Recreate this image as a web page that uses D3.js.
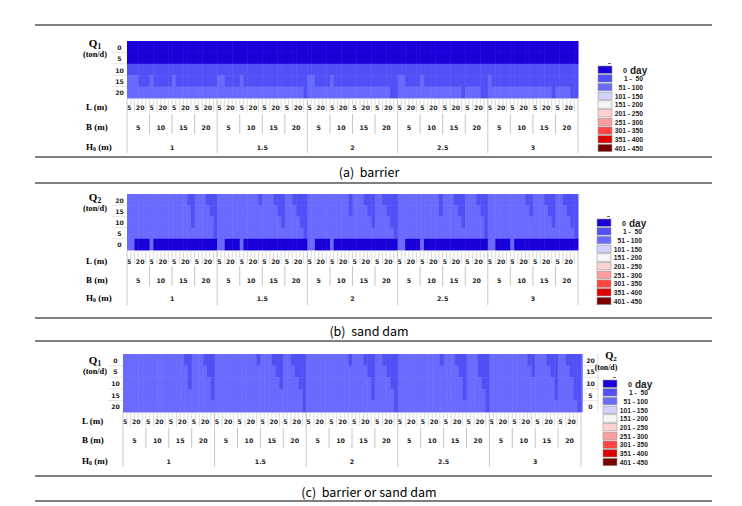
<!DOCTYPE html>
<html><head><meta charset="utf-8">
<script src="https://cdn.jsdelivr.net/npm/d3@7"></script>
<style>body{margin:0;background:#fff}svg{display:block}</style>
</head><body>
<svg id="c" width="742" height="506"></svg>
<script>
// ---------- categories ----------
const H0_vals = ["1", "1.5", "2", "2.5", "3"];
const B_vals = ["5", "10", "15", "20"];
const L_vals = ["5", "10", "15", "20", "25", "30"];
const L_shown = ["5", "20"];
const Q_vals = ["0", "5", "10", "15", "20"];
const legendLabels = ["0 day", "1 -  50", "51 - 100", "101 - 150", "151 - 200", "201 - 250", "251 - 300", "301 - 350", "351 - 400", "401 - 450"];
const legendColors = ["#1a00d8", "#5050f6", "#6a6aff", "#d2d2ff", "#f6f6f6", "#ffd0d0", "#ff9c9c", "#ff4444", "#dd0000", "#7a0000"];
const captions = ["(a)  barrier", "(b)  sand dam", "(c)  barrier or sand dam"];

// ---------- values: legend-bin index per cell, one string per H0 (B groups of L cells) ----------
// (a) barrier, rows Q1 = 0,5,10,15,20
const barrier_Q0  = ["000000 000000 000000 000000","000000 000000 000000 000000","000000 000000 000000 000000","000000 000000 000000 000000","000000 000000 000000 000000"];
const barrier_Q5  = ["000000 000000 000000 000000","000000 000000 000000 000000","000000 000000 000000 000000","000000 000000 000000 000000","000000 000000 000000 000000"];
const barrier_Q10 = ["111111 111111 111111 111111","111111 111111 111111 111111","111111 111111 111111 111111","111111 111111 111111 111111","111111 111111 111111 111111"];
const barrier_Q15 = ["222111 211111 211111 111111","221111 211111 111111 111111","221111 211111 111111 111111","221111 211111 111111 111111","211111 111111 111111 111111"];
const barrier_Q20 = ["222222 222222 222222 222222","222222 222222 222222 222221","222222 222222 222222 222211","222222 222222 222221 222211","222222 222222 222221 222211"];
// (b) sand dam, rows Q2 = 20,15,10,5,0 (top to bottom)
const sand_Q20 = ["222222 222222 222211 222111","222222 222221 222111 221111","222222 222221 222111 221111","222222 222221 222111 222111","222222 222211 222111 221111"];
const sand_Q15 = ["222222 222222 222221 222211","222222 222222 222211 222111","222222 222221 222211 222111","222222 222221 222211 222211","222222 222221 222211 222111"];
const sand_Q10 = ["222222 222222 222221 222221","222222 222222 222221 222211","222222 222222 222221 222211","222222 222222 222221 222221","222222 222222 222221 222211"];
const sand_Q5  = ["222222 222222 222222 222221","222222 222222 222222 222221","222222 222222 222222 222221","222222 222222 222222 222221","222222 222222 222222 222221"];
const sand_Q0  = ["220000 200000 000000 000000","220000 200000 000000 000000","220000 200000 000000 000000","220000 200000 000000 000000","220000 200000 000000 000000"];
// (c) barrier or sand dam, rows Q1 = 0..20 (Q2 = 20..0)
const both_Q0  = ["222222 222222 222211 222111","222222 222221 222111 221111","222222 222221 222111 221111","222222 222221 222111 222111","222222 222211 222111 221111"];
const both_Q5  = ["222222 222222 222221 222211","222222 222222 222211 222111","222222 222222 222211 222111","222222 222222 222211 222111","222222 222221 222211 222111"];
const both_Q10 = ["222222 222222 222221 222221","222222 222222 222221 222211","222222 222222 222221 222211","222222 222222 222221 222211","222222 222222 222221 222211"];
const both_Q15 = ["222222 222222 222222 222221","222222 222222 222222 222221","222222 222222 222221 222221","222222 222222 222221 222221","222222 222222 222221 222211"];
const both_Q20 = ["222222 222222 222222 222222","222222 222222 222222 222221","222222 222222 222222 222221","222222 222222 222222 222221","222222 222222 222222 222221"];

// ---------- helpers ----------
const svg = d3.select("#c");
const parseRow = r => r.join("").replace(/ /g, "").split("").map(Number);
const cols = [];
H0_vals.forEach(h => B_vals.forEach(b => L_vals.forEach(l => cols.push(h + "|" + b + "|" + l))));
const numFont = "'DejaVu Sans', sans-serif";
const legFont = "'Liberation Sans', Arial, sans-serif";
const serif = "'Liberation Serif', 'Times New Roman', serif";

function drawPanel(p) {
  const g = svg.append("g");
  const x = d3.scaleBand().domain(cols).range([p.x0, p.x1]);
  const y = d3.scaleBand().domain(d3.range(p.rows.length)).range([p.y0, p.y1]);
  const color = d3.scaleOrdinal().domain(d3.range(legendColors.length)).range(legendColors);
  const cells = [];
  p.rows.forEach((r, ri) => parseRow(r).forEach((v, ci) => cells.push({ri, c: cols[ci], v})));
  g.selectAll("rect.cell").data(cells).enter().append("rect")
    .attr("x", d => x(d.c)).attr("y", d => y(d.ri))
    .attr("width", x.bandwidth() + 0.5).attr("height", y.bandwidth() + 0.5)
    .attr("fill", d => color(d.v));

  // row label column(s)
  const lab = (lx, labels, xl) => {
    g.selectAll(null).data(d3.range(1, labels.length)).enter().append("line")
      .attr("x1", lx).attr("x2", xl).attr("y1", d => y(d)).attr("y2", d => y(d))
      .attr("stroke", "#d8d8d8").attr("stroke-width", 0.7);
    g.selectAll(null).data(labels).enter().append("text")
      .attr("x", (lx + xl) / 2).attr("y", (d, i) => y(i) + y.bandwidth() / 2 + 0.5)
      .attr("text-anchor", "middle").attr("dominant-baseline", "central")
      .attr("font-family", numFont).attr("font-weight", "bold").attr("font-size", 6.2)
      .attr("fill", "#222").text(d => d);
  };
  lab(p.x0 - 15, p.rowLabels, p.x0);
  if (p.rightLabels) {
    lab(p.x1 + 2, p.rightLabels, p.x1 + 17);
    g.append("line").attr("x1", p.x1 + 17).attr("x2", p.x1 + 17).attr("y1", p.y0).attr("y2", p.y1)
      .attr("stroke", "#d0d0d0").attr("stroke-width", 0.7);
    g.append("line").attr("x1", p.x1 + 1).attr("x2", p.x1 + 1).attr("y1", p.y0).attr("y2", p.y1)
      .attr("stroke", "#4040ff").attr("stroke-width", 1.2);
  }
  // Q title
  const qt = g.append("text").attr("x", p.qx).attr("y", p.qy).attr("text-anchor", "middle")
    .attr("font-family", serif).attr("font-weight", "bold").attr("font-size", 11);
  qt.append("tspan").text("Q");
  qt.append("tspan").attr("font-size", 7.5).attr("dy", 2).text(p.qsub);
  g.append("text").attr("x", p.qx).attr("y", p.qy + 10).attr("text-anchor", "middle")
    .attr("font-family", serif).attr("font-weight", "bold").attr("font-size", 8.3).text("(ton/d)");
  if (p.q2) {
    const q2 = g.append("text").attr("x", p.q2.x).attr("y", p.q2.y).attr("text-anchor", "middle")
      .attr("font-family", serif).attr("font-weight", "bold").attr("font-size", 10.5);
    q2.append("tspan").text("Q");
    q2.append("tspan").attr("font-size", 7).attr("dy", 2).text("2");
    g.append("text").attr("x", p.q2.x - 5).attr("y", p.q2.y + 10.5).attr("text-anchor", "middle")
      .attr("font-family", serif).attr("font-weight", "bold").attr("font-size", 7.8).text("(ton/d)");
  }

  const yb = p.y1;
  // L ticks at column boundaries
  g.selectAll(null).data(cols.slice(1)).enter().append("line")
    .attr("x1", d => x(d)).attr("x2", d => x(d)).attr("y1", yb).attr("y2", yb + 14)
    .attr("stroke", "#d0d0d0").attr("stroke-width", 0.8);
  // L labels
  const lCells = cols.filter(c => L_shown.includes(c.split("|")[2]));
  g.selectAll(null).data(lCells).enter().append("text")
    .attr("x", d => x(d) + x.bandwidth() / 2 + (d.split("|")[2] === "20" ? 0 : 0.3))
    .attr("y", p.ly).attr("text-anchor", "middle").attr("dominant-baseline", "central")
    .attr("font-family", numFont).attr("font-weight", "bold").attr("font-size", 6.2).attr("fill", "#222")
    .attr("paint-order", "stroke").attr("stroke", "#fff").attr("stroke-width", 1.6)
    .text(d => d.split("|")[2]);
  // B groups
  const bStarts = cols.filter(c => c.endsWith("|" + L_vals[0]));
  g.selectAll(null).data(bStarts.filter(c => c.split("|")[1] !== B_vals[0])).enter().append("line")
    .attr("x1", d => x(d)).attr("x2", d => x(d)).attr("y1", yb + 16).attr("y2", yb + 36)
    .attr("stroke", "#bdbdbd").attr("stroke-width", 0.9);
  g.selectAll(null).data(bStarts).enter().append("text")
    .attr("x", d => x(d) + x.bandwidth() * L_vals.length / 2).attr("y", p.by)
    .attr("text-anchor", "middle").attr("dominant-baseline", "central")
    .attr("font-family", numFont).attr("font-weight", "bold").attr("font-size", 6.3).attr("fill", "#222")
    .text(d => d.split("|")[1]);
  // H0 groups
  const hStarts = cols.filter(c => c.endsWith("|" + B_vals[0] + "|" + L_vals[0]));
  const groupW = x.bandwidth() * B_vals.length * L_vals.length;
  g.selectAll(null).data(hStarts.concat(["end"])).enter().append("line")
    .attr("x1", d => d === "end" ? p.x1 : x(d)).attr("x2", d => d === "end" ? p.x1 : x(d))
    .attr("y1", yb).attr("y2", yb + 55)
    .attr("stroke", "#c4c4c4").attr("stroke-width", 0.9);
  g.selectAll(null).data(hStarts).enter().append("text")
    .attr("x", d => x(d) + groupW / 2).attr("y", p.hy)
    .attr("text-anchor", "middle").attr("dominant-baseline", "central")
    .attr("font-family", numFont).attr("font-weight", "bold").attr("font-size", 6.3).attr("fill", "#222")
    .text(d => d.split("|")[0]);
  // left axis titles
  const tt = [[p.ly, "L (m)"], [p.by, "B (m)"]];
  tt.forEach(([yy, t]) => g.append("text").attr("x", p.tx).attr("y", yy).attr("dominant-baseline", "central")
    .attr("font-family", serif).attr("font-weight", "bold").attr("font-size", 9).text(t));
  const ht = g.append("text").attr("x", p.tx).attr("y", p.hy).attr("dominant-baseline", "central")
    .attr("font-family", serif).attr("font-weight", "bold").attr("font-size", 9);
  ht.append("tspan").text("H");
  ht.append("tspan").attr("font-size", 5.8).attr("dy", 2).text("0");
  ht.append("tspan").attr("dy", -2).text(" (m)");

  // legend
  const ly = d3.scaleBand().domain(legendLabels).range([p.lgy, p.lgy + 8.7 * legendLabels.length]);
  const lg = g.append("g");
  lg.selectAll("rect").data(legendLabels).enter().append("rect")
    .attr("x", p.lgx).attr("y", d => ly(d)).attr("width", 14).attr("height", 7.4)
    .attr("fill", (d, i) => legendColors[i]).attr("stroke", "#9a9a9a").attr("stroke-width", 0.6);
  lg.append("line").attr("x1", p.lgx + 10).attr("x2", p.lgx + 13).attr("y1", p.lgy - 2.5).attr("y2", p.lgy - 2.5)
    .attr("stroke", "#444").attr("stroke-width", 0.8);
  lg.selectAll("text.r").data(legendLabels.slice(1)).enter().append("text")
    .attr("x", p.lgx + 45).attr("y", d => ly(d) + 4).attr("text-anchor", "end").attr("dominant-baseline", "central")
    .attr("font-family", legFont).attr("font-weight", "bold").attr("font-size", 6.7).attr("fill", "#222")
    .attr("xml:space", "preserve").text(d => d);
  const z = lg.append("text").attr("x", p.lgx + 25).attr("y", ly(legendLabels[0]) + 3.6)
    .attr("dominant-baseline", "central").attr("font-family", legFont).attr("font-weight", "bold").attr("fill", "#222");
  z.append("tspan").attr("font-size", 7.2).text(legendLabels[0].split(" ")[0]);
  z.append("tspan").attr("font-size", 10).attr("dx", 3).text(legendLabels[0].split(" ")[1]);
}

drawPanel({rows: [barrier_Q0, barrier_Q5, barrier_Q10, barrier_Q15, barrier_Q20], rowLabels: Q_vals,
  x0: 127, x1: 578, y0: 41, y1: 98, qx: 95, qy: 47, qsub: "1", tx: 86, ly: 107, by: 127, hy: 147,
  lgx: 598, lgy: 66});
drawPanel({rows: [sand_Q20, sand_Q15, sand_Q10, sand_Q5, sand_Q0], rowLabels: Q_vals.slice().reverse(),
  x0: 127, x1: 578, y0: 194, y1: 250, qx: 95, qy: 201, qsub: "2", tx: 86, ly: 261, by: 280, hy: 298,
  lgx: 597, lgy: 219});
drawPanel({rows: [both_Q0, both_Q5, both_Q10, both_Q15, both_Q20], rowLabels: Q_vals,
  rightLabels: Q_vals.slice().reverse(), q2: {x: 611, y: 359},
  x0: 123, x1: 581, y0: 354, y1: 412, qx: 95, qy: 364, qsub: "1", tx: 82, ly: 421, by: 440, hy: 461,
  lgx: 603, lgy: 380});

// horizontal rules and captions
const rules = [25, 157, 183, 318, 341, 476, 501];
svg.selectAll("line.rule").data(rules).enter().append("line")
  .attr("x1", 35).attr("x2", 712).attr("y1", d => d).attr("y2", d => d)
  .attr("stroke", "#000").attr("stroke-width", 1.2);
const capY = [171, 330, 491];
svg.selectAll("text.cap").data(captions).enter().append("text")
  .attr("x", 369).attr("y", (d, i) => capY[i]).attr("text-anchor", "middle").attr("dominant-baseline", "central")
  .attr("font-family", "'Noto Sans CJK KR', 'DejaVu Sans', sans-serif").attr("font-size", 12.5)
  .attr("xml:space", "preserve").text(d => d);
</script>
</body></html>
